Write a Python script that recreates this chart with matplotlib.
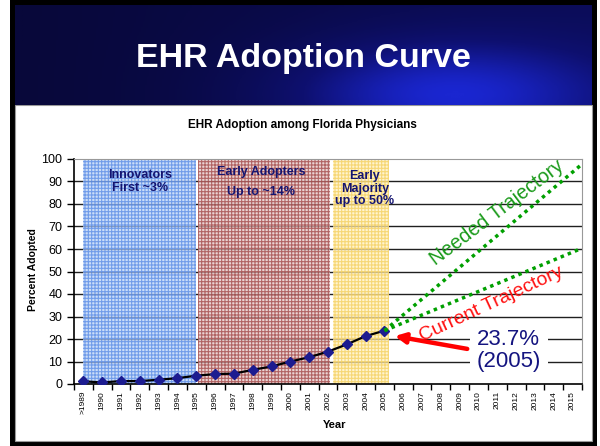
import matplotlib
matplotlib.use("Agg")
import matplotlib.pyplot as plt
import numpy as np
from matplotlib.patches import Rectangle
from matplotlib.colors import LinearSegmentedColormap

plt.rcParams['font.family'] = ['Liberation Sans', 'DejaVu Sans']
plt.rcParams['hatch.linewidth'] = 0.8

years = ['>1989', '1990', '1991', '1992', '1993', '1994', '1995', '1996', '1997',
         '1998', '1999', '2000', '2001', '2002', '2003', '2004', '2005', '2006',
         '2007', '2008', '2009', '2010', '2011', '2012', '2013', '2014', '2015']
adopted = [1.2, 0.7, 1.3, 1.3, 1.9, 2.6, 3.7, 4.4, 4.6, 6.3, 7.8, 10.0, 11.9,
           14.4, 17.6, 21.3, 23.7]
needed_end = 97
current_end = 60

W, H = 600, 446
fig = plt.figure(figsize=(6, 4.46), dpi=100)

def fx(px):
    return px / W

def fy(py):
    return 1 - py / H

# slide frame
fig.patches.append(Rectangle((fx(10), 0), fx(587), 1, transform=fig.transFigure,
                             facecolor='black', edgecolor='none', zorder=-3))
fig.patches.append(Rectangle((fx(15), fy(441)), fx(577), (441 - 105) / H,
                             transform=fig.transFigure, facecolor='white',
                             edgecolor='#999999', lw=0.8, zorder=-2))

# banner with gradient
bax = fig.add_axes([fx(15), fy(105), fx(577), 100 / H])
gx = np.linspace(0, 1, 300)
gy = np.linspace(0, 1, 60)
GX, GY = np.meshgrid(gx, gy)
grad = np.clip(0.75 * np.exp(-((GX - 0.75) ** 2 / 0.08 + (GY - 0.1) ** 2 / 0.3))
               + 0.25 * GX, 0, 1)
cmap = LinearSegmentedColormap.from_list('ban', ['#08083a', '#0e1070', '#1a26d0'])
bax.imshow(grad, cmap=cmap, aspect='auto', extent=[0, 1, 0, 1], origin='lower')
bax.set_axis_off()
bax.text(0.5, 0.47, 'EHR Adoption Curve', color='white', fontsize=24.5,
         fontweight='bold', ha='center', va='center', transform=bax.transAxes)

# chart
ax = fig.add_axes([fx(74), fy(384), fx(508), 225 / H])
x = np.arange(len(adopted))
xt = np.arange(len(years))
ax.set_xlim(-0.5, len(years) - 0.5)
ax.set_ylim(0, 100)

for v in range(10, 100, 10):
    ax.axhline(v, color='#202020', lw=1.0, zorder=1)

# shaded adoption phases
ax.axvspan(0, 6, facecolor='#b8d0f6', edgecolor='#4f84e4', hatch='+++++',
           alpha=0.72, lw=0, zorder=2)
ax.axvspan(6.1, 13.1, facecolor='#e2c2c2', edgecolor='#9c3a3a', hatch='+++++',
           alpha=0.72, lw=0, zorder=2)
ax.axvspan(13.25, 16.25, facecolor='#fff0bc', edgecolor='#f3cc55', hatch='+++++',
           alpha=0.72, lw=0, zorder=2)

ax.plot(x, adopted, color='black', lw=1.6, marker='D', markersize=5.5,
        markerfacecolor='#1c1c90', markeredgecolor='#1c1c90', zorder=3)

navy = '#141470'
ax.text(3, 90, 'Innovators\nFirst ~3%', color=navy, fontsize=9, fontweight='bold',
        ha='center', va='center', zorder=6, linespacing=1.2)
ax.text(9.45, 94.2, 'Early Adopters', color=navy, fontsize=9, fontweight='bold',
        ha='center', va='center', zorder=6)
ax.text(9.45, 85.3, 'Up to ~14%', color=navy, fontsize=9, fontweight='bold',
        ha='center', va='center', zorder=6)
ax.text(14.95, 86.8, 'Early\nMajority\nup to 50%', color=navy, fontsize=9,
        fontweight='bold', ha='center', va='center', zorder=6, linespacing=1.05)

# trajectories
last = len(adopted) - 1
ax.plot([last, 26.4], [adopted[-1], needed_end], color='#00a000', lw=2.5,
        linestyle=(0, (1, 1.2)), dash_capstyle='butt', zorder=5, clip_on=False)
ax.plot([last, 26.4], [adopted[-1], current_end], color='#00a000', lw=2.5,
        linestyle=(0, (1, 1.2)), dash_capstyle='butt', zorder=5, clip_on=False)
ax.text(22.0, 76.0, 'Needed Trajectory', color='#1a9a1a', fontsize=14.2,
        rotation=37, ha='center', va='center', zorder=6)
ax.text(21.7, 35.5, 'Current Trajectory', color='#ff1010', fontsize=14,
        rotation=25, ha='center', va='center', zorder=6)

ax.text(22.6, 14.8, '23.7%\n(2005)', color='#141480', fontsize=16, ha='center',
        va='center', linespacing=1.05, zorder=6,
        bbox=dict(facecolor='white', edgecolor='none', pad=5))
ax.annotate('', xy=(16.55, 21.3), xytext=(20.4, 15.6),
            arrowprops=dict(arrowstyle='-|>', color='#ff0000', lw=3.2,
                            mutation_scale=15, shrinkA=0, shrinkB=0), zorder=7)

# axes styling
ax.set_xticks(xt)
ax.set_xticklabels(years, rotation=90, fontsize=6)
ax.set_xticks(np.arange(-0.5, len(years), 1), minor=True)
ax.tick_params(axis='x', which='major', length=0, pad=5)
ax.tick_params(axis='x', which='minor', length=4, direction='out', width=1)
ax.set_yticks(range(0, 101, 10))
ax.tick_params(axis='y', labelsize=9, length=5, width=1, direction='out')
for s in ['top', 'right']:
    ax.spines[s].set_color('#999999')
for s in ['left', 'bottom']:
    ax.spines[s].set_color('black')
    ax.spines[s].set_linewidth(1.2)

fig.text(fx(302), fy(125), 'EHR Adoption among Florida Physicians', fontsize=8.5,
         fontweight='bold', ha='center', va='center')
fig.text(fx(33), fy(270), 'Percent Adopted', fontsize=7.5, fontweight='bold',
         ha='center', va='center', rotation=90)
fig.text(fx(335), fy(425), 'Year', fontsize=8, fontweight='bold',
         ha='center', va='center')

fig.savefig('out.png', dpi=100)
